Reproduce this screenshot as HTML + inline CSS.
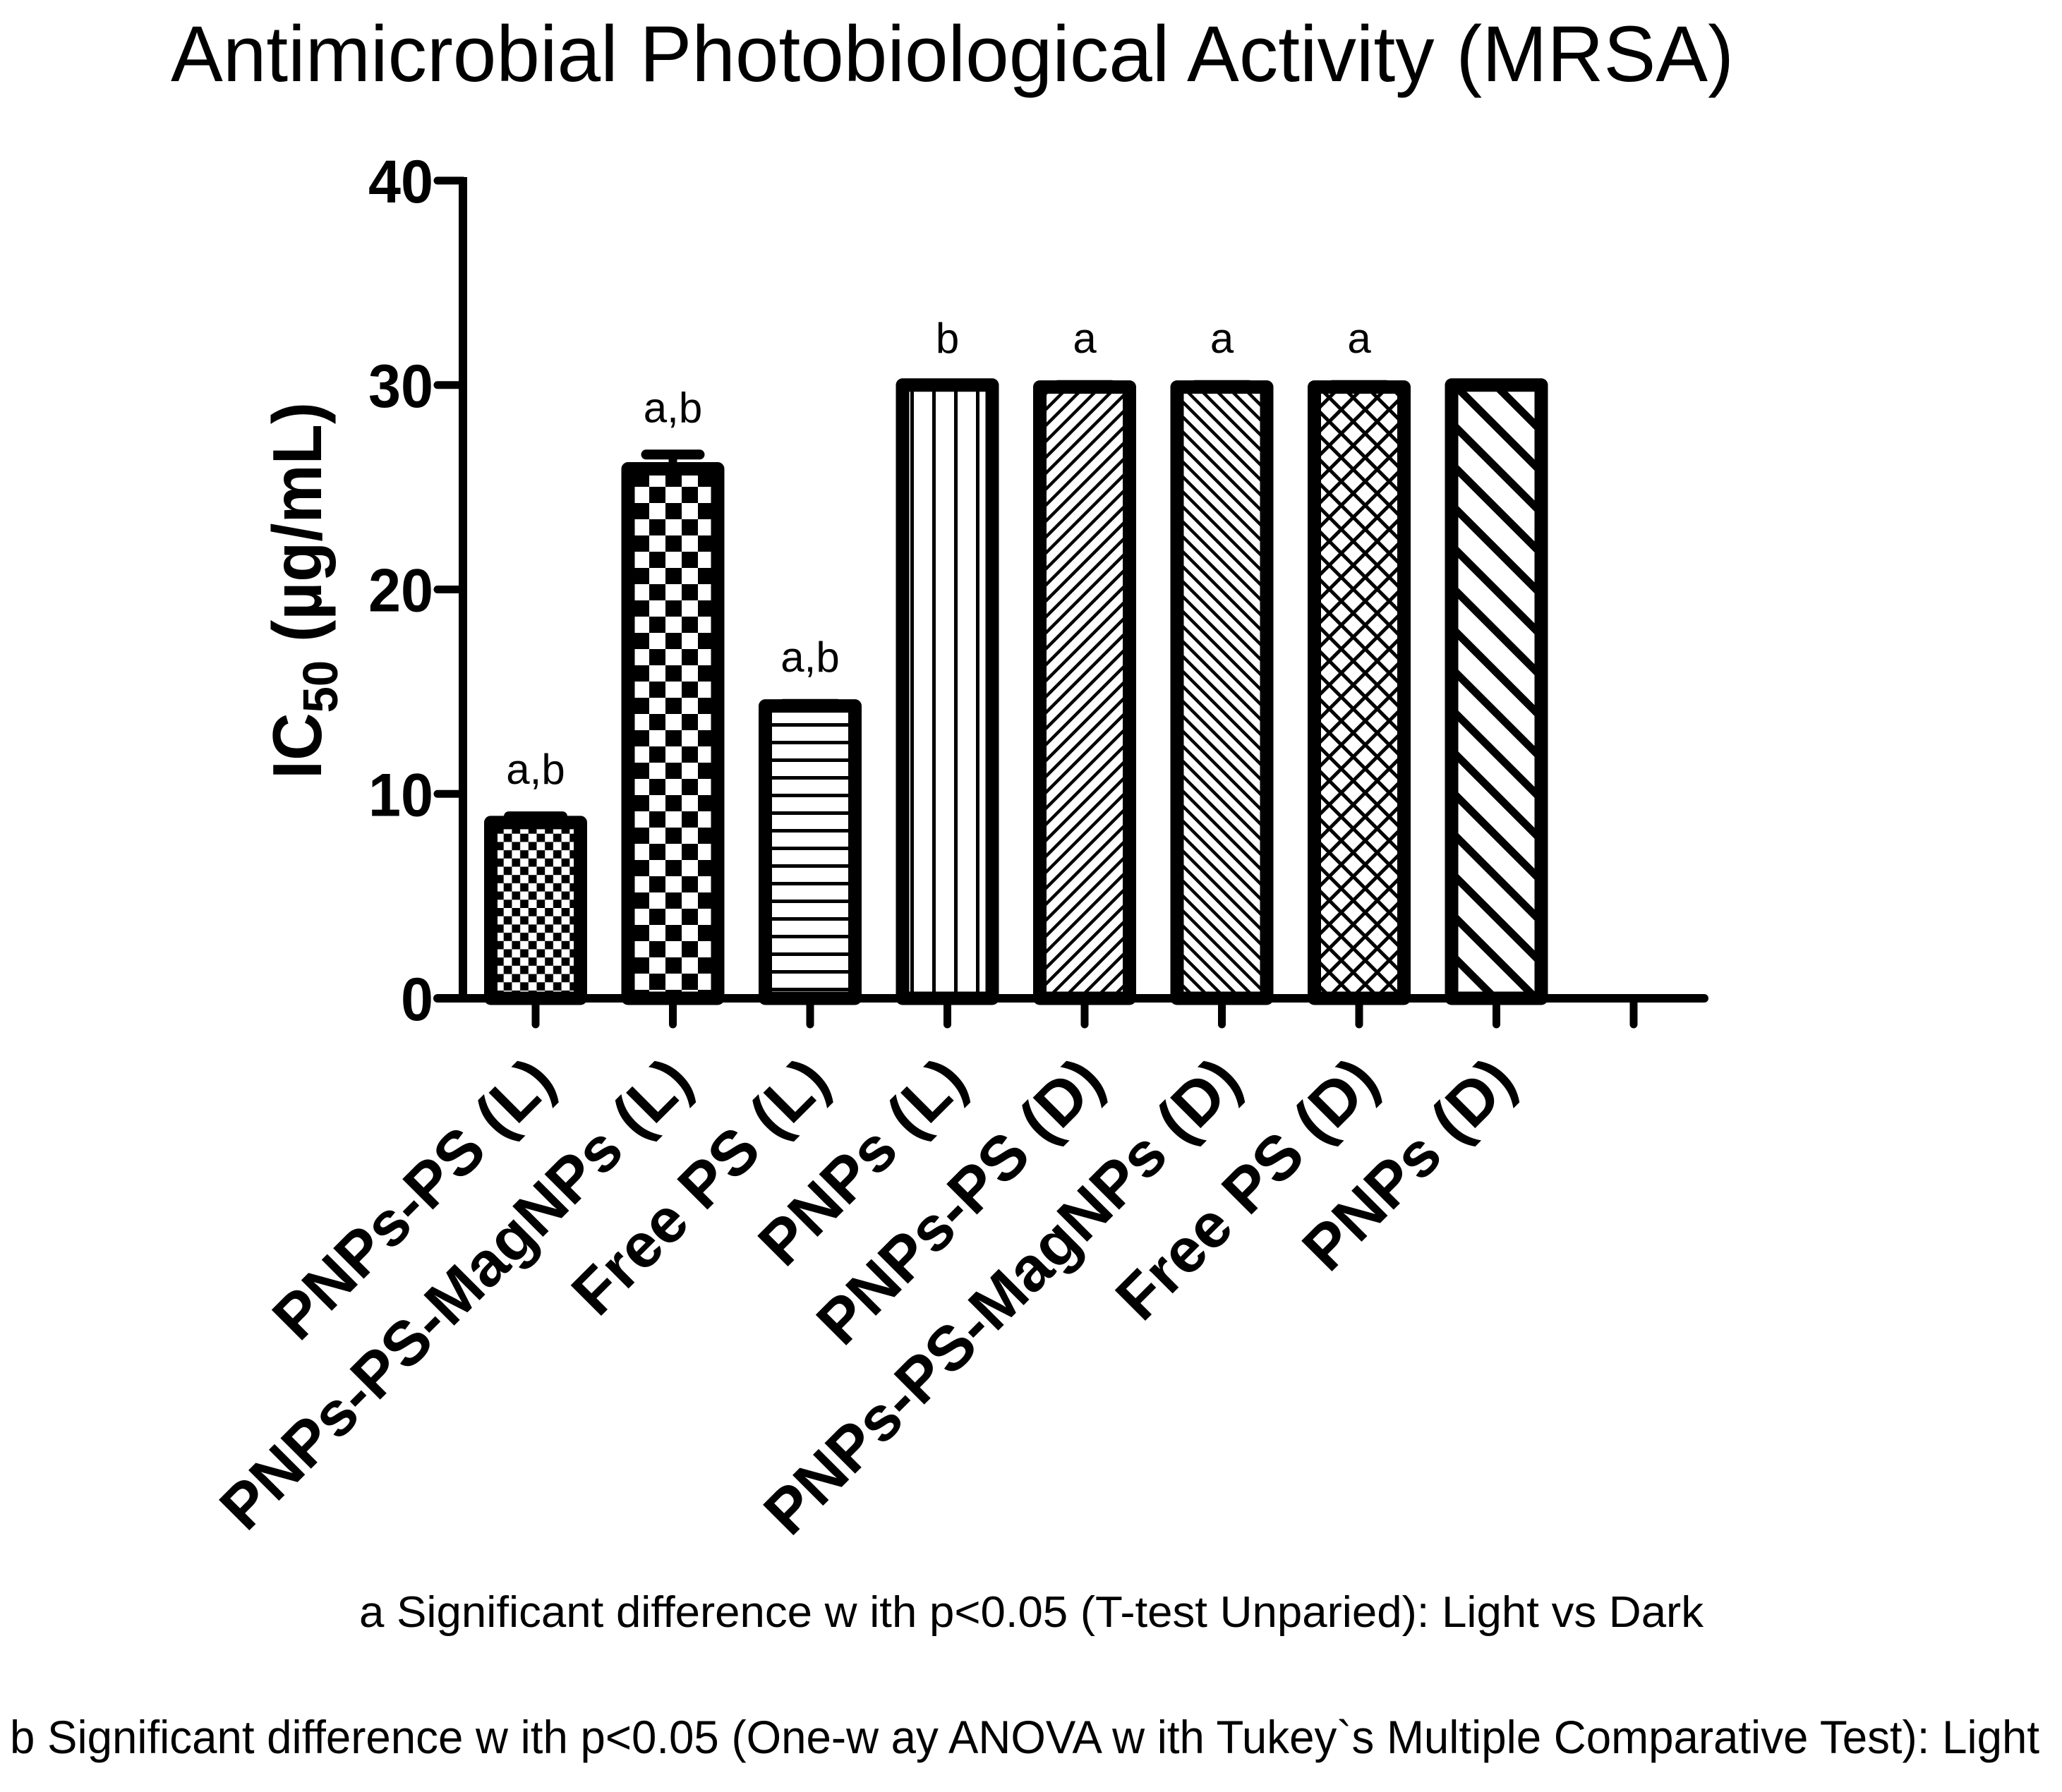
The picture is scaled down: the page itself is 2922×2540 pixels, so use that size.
<!DOCTYPE html>
<html><head><meta charset="utf-8"><style>
html,body{margin:0;padding:0;background:#fff;}
svg{display:block;}
text{font-family:"Liberation Sans",Arial,sans-serif;fill:#000;}
</style></head>
<body>
<svg id="chart" width="2922" height="2540" viewBox="0 0 2922 2540" xmlns="http://www.w3.org/2000/svg">
<defs>
  <pattern id="p0" patternUnits="userSpaceOnUse" width="23.4" height="23.4"><rect width="23.4" height="23.4" fill="#fff"/><rect width="11.7" height="11.7" fill="#000"/><rect x="11.7" y="11.7" width="11.7" height="11.7" fill="#000"/></pattern>
  <pattern id="p1" patternUnits="userSpaceOnUse" width="46" height="46"><rect width="46" height="46" fill="#fff"/><rect width="23" height="23" fill="#000"/><rect x="23" y="23" width="23" height="23" fill="#000"/></pattern>
  <pattern id="p2" patternUnits="userSpaceOnUse" width="20" height="25"><rect width="20" height="25" fill="#fff"/><rect y="0" width="20" height="5" fill="#000"/></pattern>
  <pattern id="p3" patternUnits="userSpaceOnUse" width="31" height="20" x="701"><rect width="31" height="20" fill="#fff"/><rect x="0" width="5" height="20" fill="#000"/></pattern>
  <pattern id="p4" patternUnits="userSpaceOnUse" width="16" height="16" patternTransform="rotate(45)"><rect width="16" height="16" fill="#fff"/><rect width="4.5" height="16" fill="#000"/></pattern>
  <pattern id="p5" patternUnits="userSpaceOnUse" width="15" height="15" patternTransform="rotate(-45)"><rect width="15" height="15" fill="#fff"/><rect width="4.5" height="15" fill="#000"/></pattern>
  <pattern id="p6" patternUnits="userSpaceOnUse" width="24" height="24" patternTransform="rotate(45)"><rect width="24" height="24" fill="#fff"/><rect width="5" height="24" fill="#000"/><rect x="5" y="0" width="19" height="5" fill="#000"/></pattern>
  <pattern id="p7" patternUnits="userSpaceOnUse" width="41" height="41" patternTransform="rotate(-45)"><rect width="41" height="41" fill="#fff"/><rect width="11" height="41" fill="#000"/></pattern>
</defs>
<text x="242" y="115" font-size="112" textLength="2215" lengthAdjust="spacingAndGlyphs">Antimicrobial Photobiological Activity (MRSA)</text>
<g id="plot"></g>
<text x="509" y="2306" font-size="62" textLength="1905" lengthAdjust="spacingAndGlyphs">a Significant difference w ith p&lt;0.05 (T-test Unparied): Light vs Dark</text>
<text x="14" y="2485" font-size="66" textLength="2876" lengthAdjust="spacingAndGlyphs">b Significant difference w ith p&lt;0.05 (One-w ay ANOVA w ith Tukey`s Multiple Comparative Test): Light</text>
</svg>
<script>
const categories = ["PNPs-PS (L)", "PNPs-PS-MagNPs (L)", "Free PS (L)", "PNPs (L)", "PNPs-PS (D)", "PNPs-PS-MagNPs (D)", "Free PS (D)", "PNPs (D)"];
const values = [8.6, 25.9, 14.3, 30.0, 29.9, 29.9, 29.9, 30.0];
const errors = [0.3, 0.7, 0.1, 0, 0.1, 0.1, 0.1, 0];
const sigLabels = ["a,b", "a,b", "a,b", "b", "a", "a", "a", ""];
const yTicks = [0, 10, 20, 30, 40];

const NS = "http://www.w3.org/2000/svg";
const plot = document.getElementById("plot");
const Y0 = 1415, YMAX = 40, YTOP = 256;
function y(v){ return Y0 - v * (Y0 - YTOP) / YMAX; }
function x(i){ return 759 + i * 194.5; }
function mk(tag, attrs, parent){
  const e = document.createElementNS(NS, tag);
  for (const k in attrs) e.setAttribute(k, attrs[k]);
  (parent || plot).appendChild(e);
  return e;
}
const AX = 656;
categories.forEach((c, i) => {
  const cx = x(i), w = 127;
  const top = y(values[i]);
  if (errors[i] > 0) {
    const ey = y(values[i] + errors[i]);
    const eb = mk("line", {x1: cx, x2: cx, y1: top, y2: ey, stroke: "#000", "stroke-width": 12});
    
    
    const cap = mk("line", {x1: cx - 38, x2: cx + 38, y1: ey, y2: ey, stroke: "#000", "stroke-width": 14, "stroke-linecap": "round"});
    
    
  }
  const r = mk("rect", {x: cx - w/2, y: top, width: w, height: Y0 - top, fill: "url(#p" + i + ")", stroke: "#000", "stroke-width": 19, "stroke-linejoin": "round"});
  
  
  if (sigLabels[i]) {
    const t = mk("text", {x: cx, y: y(values[i] + errors[i]) - 46, "font-size": 60, "text-anchor": "middle"});
    t.textContent = sigLabels[i];
    
    
  }
  const lab = mk("text", {transform: "translate(" + (cx + 32) + ",1537) rotate(-45)", "font-size": 89, "font-weight": "bold", "text-anchor": "end"});
  lab.textContent = c;
  
  
});
const xa = mk("line", {x1: 620, x2: 2415, y1: Y0, y2: Y0, stroke: "#000", "stroke-width": 12, "stroke-linecap": "round"});


const ya = mk("line", {x1: AX, x2: AX, y1: YTOP - 5, y2: Y0 + 5, stroke: "#000", "stroke-width": 12});


for (let i = 0; i <= categories.length; i++) {
  const tk = mk("line", {x1: x(i), x2: x(i), y1: Y0, y2: 1452, stroke: "#000", "stroke-width": 11, "stroke-linecap": "round"});
  
  
}
yTicks.forEach(v => {
  const tk = mk("line", {x1: 620, x2: AX, y1: y(v), y2: y(v), stroke: "#000", "stroke-width": 11, "stroke-linecap": "round"});
  
  
  const s = String(v);
  const t = mk("text", {x: 614, y: y(v) + 31, "font-size": 86, "font-weight": "bold", "text-anchor": "end", textLength: 46 * s.length, lengthAdjust: "spacingAndGlyphs"});
  t.textContent = s;
  
  
});
const yt = mk("text", {transform: "translate(455,837) rotate(-90)", "font-size": 98, "font-weight": "bold", "text-anchor": "middle", textLength: 534, lengthAdjust: "spacingAndGlyphs"});


const t1 = mk("tspan", {}, yt); t1.textContent = "IC";
const t2 = mk("tspan", {dy: 23, "font-size": 70}, yt); t2.textContent = "50";
const t3 = mk("tspan", {dy: -23}, yt); t3.textContent = " (µg/mL)";
</script>
</body></html>
